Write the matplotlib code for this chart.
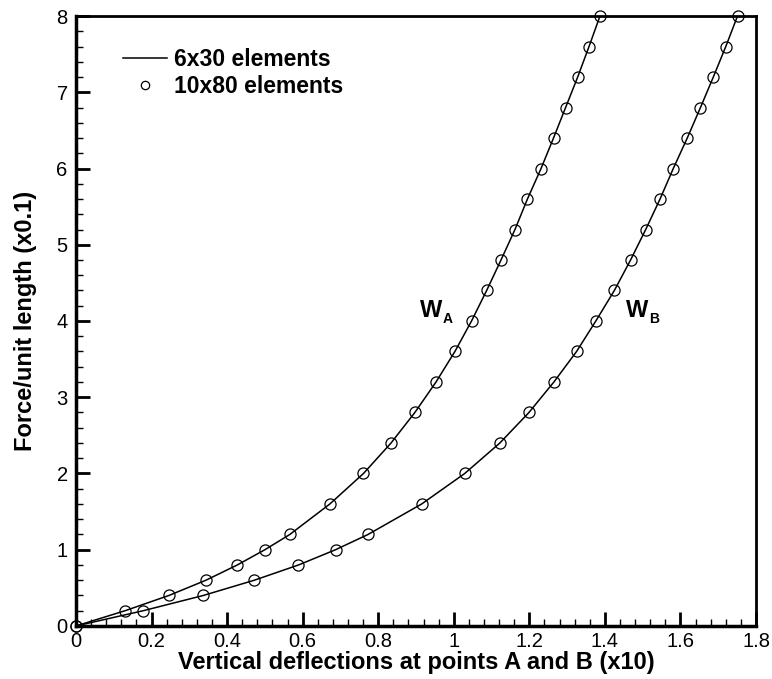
import matplotlib
matplotlib.use("Agg")
import matplotlib.pyplot as plt
from matplotlib.ticker import MultipleLocator

plt.rcParams['font.family'] = ['Liberation Sans', 'DejaVu Sans']

# force levels (x0.1) shared by both curves
force = [0, 0.2, 0.4, 0.6, 0.8, 1.0, 1.2, 1.6, 2.0, 2.4, 2.8, 3.2, 3.6, 4.0,
         4.4, 4.8, 5.2, 5.6, 6.0, 6.4, 6.8, 7.2, 7.6, 8.0]
# deflection at point A (x10)
w_a = [0, 0.130, 0.246, 0.344, 0.427, 0.500, 0.566, 0.672, 0.761, 0.834,
       0.897, 0.953, 1.003, 1.047, 1.087, 1.125, 1.162, 1.195, 1.231, 1.264,
       1.296, 1.328, 1.358, 1.387]
# deflection at point B (x10)
w_b = [0, 0.178, 0.337, 0.472, 0.589, 0.687, 0.773, 0.915, 1.029, 1.122,
       1.199, 1.265, 1.325, 1.376, 1.425, 1.468, 1.508, 1.546, 1.581, 1.618,
       1.653, 1.687, 1.720, 1.751]

fig = plt.figure(figsize=(7.72, 6.79), dpi=100)
ax = fig.add_axes([0.0984, 0.0781, 0.8809, 0.8983])

ax.plot(w_a, force, color='black', lw=1.1, label='6x30 elements')
ax.plot(w_b, force, color='black', lw=1.1)
ax.plot(w_a, force, ls='none', marker='o', ms=8, mfc='none', mec='black',
        mew=0.9, label='10x80 elements', clip_on=False)
ax.plot(w_b, force, ls='none', marker='o', ms=8, mfc='none', mec='black',
        mew=0.9, clip_on=False)

ax.set_xlim(0, 1.8)
ax.set_ylim(0, 8)
ax.xaxis.set_minor_locator(MultipleLocator(0.04))
ax.yaxis.set_major_locator(MultipleLocator(1))
ax.yaxis.set_minor_locator(MultipleLocator(0.2))
ax.set_xticks([0, 0.2, 0.4, 0.6, 0.8, 1.0, 1.2, 1.4, 1.6, 1.8])
ax.set_xticklabels(['0', '0.2', '0.4', '0.6', '0.8', '1', '1.2', '1.4', '1.6', '1.8'])
ax.tick_params(which='major', direction='in', length=10, width=2,
               labelsize=14.5, top=False, right=False)
ax.tick_params(axis='x', which='major', pad=4)
ax.tick_params(axis='y', which='major', pad=6)
ax.tick_params(which='minor', direction='in', length=5, width=1,
               top=False, right=False)

for side in ['left', 'bottom']:
    ax.spines[side].set_linewidth(2.5)
for side in ['top', 'right']:
    ax.spines[side].set_linewidth(2)

ax.set_xlabel('Vertical deflections at points A and B (x10)', fontsize=17,
              fontweight='bold', labelpad=0)
ax.set_ylabel('Force/unit length (x0.1)', fontsize=17, fontweight='bold',
              labelpad=14)

# curve labels: W with a small subscript
for x0, sub in [(0.910, 'A'), (1.457, 'B')]:
    ax.text(x0, 4.056, 'W', fontsize=17, fontweight='bold', va='baseline')
    ax.annotate(sub, xy=(x0, 4.056), xytext=(23, -6), textcoords='offset pixels',
                fontsize=10, fontweight='bold', va='baseline')

ax.legend(loc='upper left', bbox_to_anchor=(0.056, 0.963), frameon=False,
          prop={'size': 16.5, 'weight': 'bold'}, handlelength=1.9,
          handletextpad=0.3, labelspacing=0.2, borderaxespad=0,
          markerscale=0.75)

fig.savefig('out.png', dpi=100)
